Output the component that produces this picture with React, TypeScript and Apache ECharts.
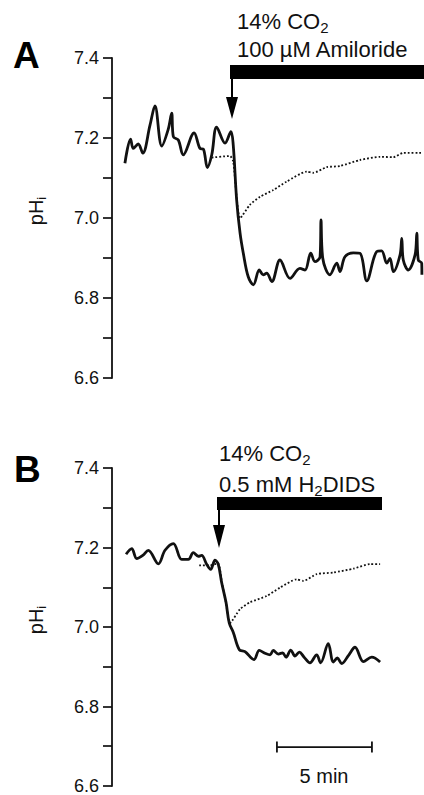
import React, { useEffect, useRef } from "react";
import * as echarts from "echarts";

// Time in minutes (from the y axis), pHi values
const timeASolid = [0.68, 0.98, 1.12, 1.38, 1.62, 2.0, 2.26, 2.62, 2.96, 3.14, 3.23, 3.49, 3.75, 4.32, 4.63, 4.81, 5.02, 5.25, 5.51, 5.95, 6.26, 6.38, 6.56, 6.74, 6.91, 7.17, 7.44, 7.75, 7.96, 8.14, 8.41, 8.84, 9.37, 9.89, 10.16, 10.46, 10.68, 10.95, 11.0, 11.09, 11.47, 11.83, 12.0, 12.26, 12.7, 13.05, 13.41, 13.93, 14.19, 14.46, 14.63, 14.81, 15.16, 15.25, 15.33, 15.59, 15.95, 16.04, 16.12, 16.3, 16.31];
const phASolid = [7.137, 7.197, 7.174, 7.185, 7.162, 7.232, 7.28, 7.18, 7.222, 7.262, 7.203, 7.195, 7.158, 7.213, 7.174, 7.172, 7.126, 7.158, 7.227, 7.187, 7.216, 7.183, 7.045, 6.962, 6.912, 6.853, 6.833, 6.87, 6.858, 6.862, 6.841, 6.895, 6.849, 6.874, 6.87, 6.912, 6.891, 6.903, 6.995, 6.9, 6.858, 6.887, 6.866, 6.903, 6.913, 6.912, 6.843, 6.916, 6.918, 6.887, 6.899, 6.866, 6.908, 6.949, 6.895, 6.87, 6.908, 6.962, 6.895, 6.887, 6.858];
const timeADotted = [5.25, 6.21, 6.38, 6.74, 7.26, 7.79, 8.49, 9.19, 10.25, 10.59, 11.3, 12.0, 13.05, 14.11, 14.81, 15.33, 16.3];
const phADotted = [7.151, 7.155, 7.141, 6.999, 7.033, 7.053, 7.07, 7.091, 7.116, 7.113, 7.127, 7.13, 7.145, 7.153, 7.152, 7.163, 7.163];

const timeBSolid = [0.74, 1.04, 1.3, 1.62, 1.91, 2.44, 2.79, 3.23, 3.67, 4.02, 4.28, 4.54, 4.72, 4.98, 5.19, 5.42, 5.59, 5.77, 6.0, 6.17, 6.38, 6.7, 7.0, 7.47, 7.75, 8.05, 8.32, 8.49, 8.75, 8.98, 9.16, 9.41, 9.63, 9.86, 10.11, 10.42, 10.77, 10.98, 11.38, 11.65, 11.86, 12.09, 12.44, 12.79, 13.23, 13.67, 14.11];
const phBSolid = [7.183, 7.197, 7.172, 7.18, 7.193, 7.159, 7.193, 7.21, 7.17, 7.17, 7.187, 7.178, 7.18, 7.158, 7.145, 7.168, 7.158, 7.112, 7.062, 7.01, 6.987, 6.943, 6.938, 6.918, 6.941, 6.934, 6.93, 6.941, 6.932, 6.935, 6.924, 6.942, 6.927, 6.937, 6.924, 6.91, 6.93, 6.91, 6.958, 6.912, 6.922, 6.908, 6.928, 6.949, 6.913, 6.924, 6.912];
const timeBDotted = [4.59, 5.16, 5.58, 5.79, 6.0, 6.21, 6.74, 7.26, 8.14, 8.84, 9.72, 10.07, 10.77, 11.65, 12.72, 13.58, 14.11];
const phBDotted = [7.155, 7.155, 7.16, 7.11, 7.06, 7.01, 7.045, 7.062, 7.078, 7.099, 7.12, 7.116, 7.133, 7.137, 7.147, 7.158, 7.158];

const scaleBarTime = [8.68, 13.68];
const scaleBarPh = 6.698;

const yMin = 6.6;
const yMax = 7.4;
const yInterval = 0.1;
const xMin = 0;
const xMax = 16.42;

const FONT = "'Liberation Sans', Arial, Helvetica, sans-serif";

function pairs(t: number[], v: number[]) {
  return t.map((x, i) => [x, v[i]]);
}

export default function App() {
  const ref = useRef<HTMLDivElement>(null);
  useEffect(() => {
    if (!ref.current) return;
    const chart = echarts.init(ref.current, undefined, { renderer: "svg" });

    const yAxisBase = (gridIndex: number) => ({
      type: "value" as const,
      gridIndex,
      min: yMin,
      max: yMax,
      interval: yInterval,
      position: "left" as const,
      axisLine: { show: true, lineStyle: { color: "#111", width: 1.8 } },
      axisTick: { show: true, inside: false, length: 9, lineStyle: { color: "#111", width: 1.7 } },
      splitLine: { show: false },
      axisLabel: {
        margin: 13,
        fontSize: 18,
        fontFamily: FONT,
        color: "#111",
        formatter: (v: number) => (Math.round(v * 10) % 2 === 0 ? v.toFixed(1) : ""),
      },
    });
    const xAxisBase = (gridIndex: number) => ({
      type: "value" as const,
      gridIndex,
      min: xMin,
      max: xMax,
      show: false,
    });

    const solid = { type: "line" as const, showSymbol: false, smooth: 0.35, lineStyle: { color: "#111", width: 2.8 } };
    const dotted = { type: "line" as const, showSymbol: false, smooth: 0.2, lineStyle: { color: "#111", width: 1.8, type: [1.8, 2] as any } };

    const sub = { fontSize: 15, fontFamily: FONT, fill: "#111", padding: [12, 0, 0, 0], lineHeight: 15 };
    const main = { fontSize: 22, fontFamily: FONT, fill: "#111", lineHeight: 22 };
    const pRich = {
      m: { fontSize: 20, fontFamily: FONT, fill: "#111", lineHeight: 20 },
      s: { fontSize: 13, fontFamily: FONT, fill: "#111", padding: [11, 0, 0, 0], lineHeight: 13 },
    };

    const graphics: any[] = [
      // Panel letters
      { type: "text", left: 13, top: 37, style: { text: "A", font: `bold 37px ${FONT}`, fill: "#000" } },
      { type: "text", left: 14, top: 451, style: { text: "B", font: `bold 37px ${FONT}`, fill: "#000" } },
      // pHi labels
      { type: "text", x: 36, y: 211, rotation: Math.PI / 2, style: { text: "{m|pH}{s|i}", align: "center", verticalAlign: "middle", rich: pRich } },
      { type: "text", x: 36, y: 620, rotation: Math.PI / 2, style: { text: "{m|pH}{s|i}", align: "center", verticalAlign: "middle", rich: pRich } },
      // Panel A annotation
      { type: "text", x: 237, y: 21, style: { text: "{m|14% CO}{s|2}", align: "left", verticalAlign: "middle", rich: { m: main, s: sub } } },
      { type: "text", x: 237, y: 49, style: { text: "100 µM Amiloride", align: "left", verticalAlign: "middle", font: `22px ${FONT}`, fill: "#111" } },
      { type: "rect", shape: { x: 230, y: 65, width: 194, height: 14 }, style: { fill: "#000" } },
      { type: "line", shape: { x1: 232, y1: 72, x2: 232, y2: 100 }, style: { stroke: "#000", lineWidth: 2 } },
      { type: "polygon", shape: { points: [[226, 97], [238, 97], [232, 119]] }, style: { fill: "#000" } },
      // Panel B annotation
      { type: "text", x: 219, y: 453, style: { text: "{m|14% CO}{s|2}", align: "left", verticalAlign: "middle", rich: { m: main, s: sub } } },
      { type: "text", x: 219, y: 484, style: { text: "{m|0.5 mM H}{s|2}{m|DIDS}", align: "left", verticalAlign: "middle", rich: { m: main, s: sub } } },
      { type: "rect", shape: { x: 217, y: 497, width: 165, height: 13 }, style: { fill: "#000" } },
      { type: "line", shape: { x1: 219, y1: 503, x2: 219, y2: 528 }, style: { stroke: "#000", lineWidth: 2 } },
      { type: "polygon", shape: { points: [[213, 525], [225, 525], [219, 548]] }, style: { fill: "#000" } },
      // Scale bar label
      { type: "text", x: 324, y: 776, style: { text: "5 min", align: "center", verticalAlign: "middle", font: `20px ${FONT}`, fill: "#111" } },
    ];

    const option: any = {
      animation: false,
      backgroundColor: "#fff",
      grid: [
        { left: 112, top: 58, width: 312, height: 320 },
        { left: 112, top: 468, width: 312, height: 320 },
      ],
      xAxis: [xAxisBase(0), xAxisBase(1)],
      yAxis: [yAxisBase(0), yAxisBase(1)],
      series: [
        { ...dotted, xAxisIndex: 0, yAxisIndex: 0, data: pairs(timeADotted, phADotted), z: 2 },
        { ...solid, xAxisIndex: 0, yAxisIndex: 0, data: pairs(timeASolid, phASolid), z: 3 },
        { ...dotted, xAxisIndex: 1, yAxisIndex: 1, data: pairs(timeBDotted, phBDotted), z: 2 },
        { ...solid, xAxisIndex: 1, yAxisIndex: 1, data: pairs(timeBSolid, phBSolid), z: 3 },
        {
          type: "line",
          xAxisIndex: 1,
          yAxisIndex: 1,
          data: scaleBarTime.map((t) => [t, scaleBarPh]),
          symbol: "rect",
          symbolSize: [1.8, 11],
          itemStyle: { color: "#111" },
          lineStyle: { color: "#111", width: 1.8 },
        },
      ],
      graphic: graphics,
    };
    chart.setOption(option);
    return () => chart.dispose();
  }, []);

  return <div ref={ref} style={{ position: "fixed", left: 0, top: 0, width: 424, height: 795, background: "#fff" }} />;
}
